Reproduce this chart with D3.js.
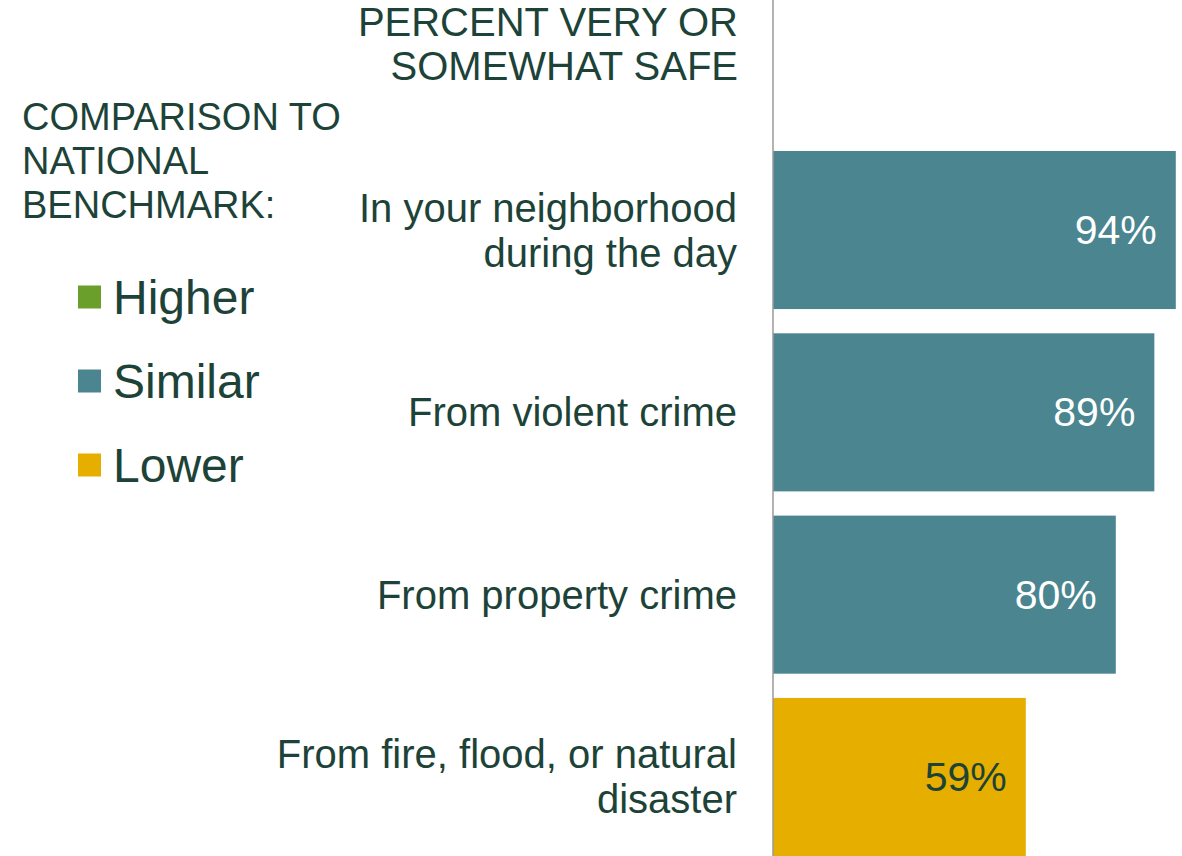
<!DOCTYPE html>
<html>
<head>
<meta charset="utf-8">
<script src="https://cdn.jsdelivr.net/npm/d3@7"></script>
<style>
  body { margin: 0; background: #fff; }
  text { font-family: Arial, "Liberation Sans", sans-serif; }
</style>
</head>
<body>
<div id="chart"></div>
<script>
// datos
const categories = [
  ["In your neighborhood", "during the day"],
  ["From violent crime"],
  ["From property crime"],
  ["From fire, flood, or natural", "disaster"]
]
const values = [94, 89, 80, 59]
const comparison = ["Similar", "Similar", "Similar", "Lower"]
const legendItems = ["Higher", "Similar", "Lower"]
const headerLines = ["PERCENT VERY OR", "SOMEWHAT SAFE"]
const legendTitle = ["COMPARISON TO", "NATIONAL", "BENCHMARK:"]

// constantes
const width = 1182
const height = 856
const axisX = 773
const textColor = "#1d4338"

const color = d3.scaleOrdinal()
  .domain(["Higher", "Similar", "Lower"])
  .range(["#6a9f2b", "#4a8590", "#e6af00"])

const svg = d3.select("#chart").append("svg")
  .attr("width", width).attr("height", height)

// escalas
const x = d3.scaleLinear().domain([0, 100]).range([axisX, axisX + 428.5])
const y = d3.scaleBand().domain(d3.range(values.length)).range([151, 856]).paddingInner(0.133).paddingOuter(0)

// barras
svg.selectAll("rect.bar").data(values).enter().append("rect")
  .attr("class", "bar")
  .attr("x", x(0))
  .attr("y", (d, i) => y(i))
  .attr("width", d => x(d) - x(0))
  .attr("height", y.bandwidth())
  .attr("fill", (d, i) => color(comparison[i]))

// etiquetas de valor
svg.selectAll("text.val").data(values).enter().append("text")
  .attr("class", "val")
  .attr("x", d => x(d) - 19)
  .attr("y", (d, i) => y(i) + y.bandwidth() / 2)
  .attr("text-anchor", "end")
  .attr("dominant-baseline", "central")
  .attr("font-size", 41)
  .attr("fill", (d, i) => comparison[i] === "Lower" ? textColor : "#fff")
  .text(d => d + "%")

// etiquetas de categoria
const lineH = 45
categories.forEach((lines, i) => {
  const cy = y(i) + y.bandwidth() / 2
  const t = svg.append("text")
    .attr("text-anchor", "end")
    .attr("font-size", 40)
    .attr("fill", textColor)
  lines.forEach((l, j) => {
    t.append("tspan")
      .attr("x", 737)
      .attr("y", cy + (j - (lines.length - 1) / 2) * lineH)
      .attr("dominant-baseline", "central")
      .text(l)
  })
})

// eje
svg.append("line")
  .attr("x1", axisX).attr("x2", axisX)
  .attr("y1", 0).attr("y2", height)
  .attr("stroke", "#9a9a9a").attr("stroke-width", 1.5)

// titulo
const head = svg.append("text").attr("text-anchor", "end").attr("font-size", 40).attr("fill", textColor)
headerLines.forEach((l, j) => {
  head.append("tspan").attr("x", 738).attr("y", 22 + j * 44)
    .attr("dominant-baseline", "central").text(l)
})

// leyenda
const lt = svg.append("text").attr("font-size", 38).attr("fill", textColor)
legendTitle.forEach((l, j) => {
  lt.append("tspan").attr("x", 22).attr("y", 117 + j * 44)
    .attr("dominant-baseline", "central").text(l)
})

const legend = svg.selectAll("g.legend").data(legendItems).enter().append("g")
  .attr("class", "legend")
  .attr("transform", (d, i) => `translate(78, ${297 + i * 84})`)
legend.append("rect")
  .attr("x", 0).attr("y", -11.5)
  .attr("width", 23).attr("height", 23)
  .attr("fill", d => color(d))
legend.append("text")
  .attr("x", 35).attr("y", 0)
  .attr("dominant-baseline", "central")
  .attr("font-size", 48)
  .attr("fill", textColor)
  .text(d => d)
</script>
</body>
</html>
